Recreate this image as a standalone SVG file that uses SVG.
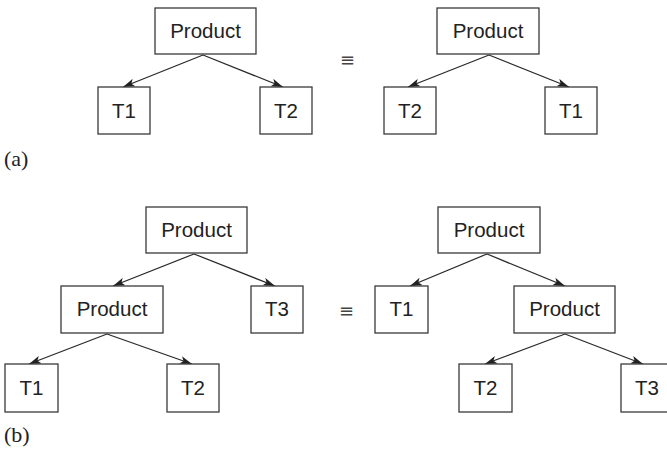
<svg xmlns="http://www.w3.org/2000/svg" width="667" height="449" viewBox="0 0 667 449">
<defs>
<marker id="ah" viewBox="0 0 12 8" refX="12" refY="4" markerWidth="12" markerHeight="8" markerUnits="userSpaceOnUse" orient="auto">
<path d="M0,0 L12,4 L0,8 L3,4 Z" fill="#222"/>
</marker>
<style>
.box{fill:#fff;stroke:#3a3a3a;stroke-width:1.3}
.lbl{font-family:"Liberation Sans",Arial,Helvetica,sans-serif;font-size:20.5px;fill:#222;text-anchor:middle}
.cap{font-family:"Liberation Serif","Times New Roman",serif;font-size:22px;fill:#222}
.eq{font-family:"DejaVu Sans",sans-serif;font-size:18px;fill:#444}
.edge{stroke:#2a2a2a;stroke-width:1.3;fill:none;marker-end:url(#ah)}
</style>
</defs>
<rect width="667" height="449" fill="#fff"/>
<g id="connectors">
<line class="edge" x1="203" y1="55" x2="123" y2="87"/>
<line class="edge" x1="203" y1="55" x2="283" y2="87"/>
<line class="edge" x1="489" y1="55" x2="408" y2="87"/>
<line class="edge" x1="489" y1="55" x2="569" y2="87"/>
<line class="edge" x1="194" y1="254" x2="113" y2="286"/>
<line class="edge" x1="194" y1="254" x2="275" y2="286"/>
<line class="edge" x1="107" y1="334" x2="29" y2="364"/>
<line class="edge" x1="107" y1="334" x2="192" y2="364"/>
<line class="edge" x1="487" y1="254" x2="410" y2="286"/>
<line class="edge" x1="487" y1="254" x2="565" y2="286"/>
<line class="edge" x1="565" y1="334" x2="485" y2="364"/>
<line class="edge" x1="565" y1="334" x2="643" y2="364"/>
</g>
<g id="a_root"><rect class="box" x="155" y="8" width="101" height="46"/><text class="lbl" x="205.5" y="38">Product</text></g>
<g id="a_t1"><rect class="box" x="98" y="87" width="52" height="47"/><text class="lbl" x="124" y="118">T1</text></g>
<g id="a_t2"><rect class="box" x="260" y="87" width="52" height="47"/><text class="lbl" x="286" y="118">T2</text></g>
<g id="a_eq"><text class="eq" x="340" y="66">≡</text></g>
<g id="a2_root"><rect class="box" x="437" y="8" width="102" height="46"/><text class="lbl" x="488" y="38">Product</text></g>
<g id="a2_t2"><rect class="box" x="384" y="87" width="52" height="47"/><text class="lbl" x="410" y="118">T2</text></g>
<g id="a2_t1"><rect class="box" x="545" y="87" width="52" height="47"/><text class="lbl" x="571" y="118">T1</text></g>
<g id="cap_a"><text class="cap" x="4" y="166">(a)</text></g>
<g id="b_root"><rect class="box" x="146" y="207" width="101" height="46"/><text class="lbl" x="196.5" y="237">Product</text></g>
<g id="b_prod"><rect class="box" x="61" y="286" width="102" height="47"/><text class="lbl" x="112" y="316">Product</text></g>
<g id="b_t3"><rect class="box" x="251" y="286" width="52" height="47"/><text class="lbl" x="277" y="316">T3</text></g>
<g id="b_t1"><rect class="box" x="5" y="364" width="53" height="48"/><text class="lbl" x="31.5" y="395">T1</text></g>
<g id="b_t2"><rect class="box" x="167" y="364" width="52" height="48"/><text class="lbl" x="193" y="395">T2</text></g>
<g id="b_eq"><text class="eq" x="339" y="317">≡</text></g>
<g id="b2_root"><rect class="box" x="438" y="207" width="102" height="46"/><text class="lbl" x="489" y="237">Product</text></g>
<g id="b2_t1"><rect class="box" x="375" y="286" width="53" height="47"/><text class="lbl" x="401.5" y="316">T1</text></g>
<g id="b2_prod"><rect class="box" x="514" y="286" width="101" height="47"/><text class="lbl" x="564.5" y="316">Product</text></g>
<g id="b2_t2"><rect class="box" x="459" y="364" width="53" height="48"/><text class="lbl" x="485.5" y="395">T2</text></g>
<g id="b2_t3"><rect class="box" x="621" y="364" width="52" height="48"/><text class="lbl" x="647" y="395">T3</text></g>
<g id="cap_b"><text class="cap" x="4" y="442">(b)</text></g>
</svg>
